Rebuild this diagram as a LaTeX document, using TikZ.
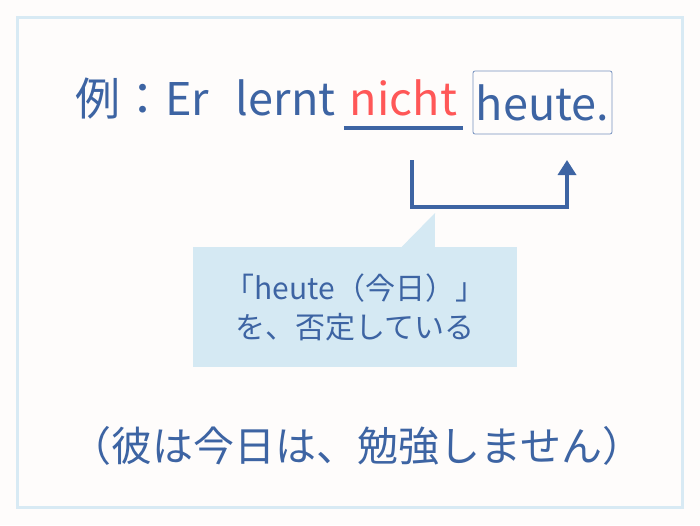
\documentclass[tikz,border=0pt]{standalone}
\usepackage{fontspec}
\setmainfont{Noto Sans CJK JP}
\usepackage{tikz}
\usetikzlibrary{positioning,arrows.meta}

\definecolor{inkblue}{HTML}{3D64A3}
\definecolor{negred}{HTML}{FF5757}
\definecolor{frameblue}{HTML}{D8EAF4}
\definecolor{bubbleblue}{HTML}{D5E9F3}
\definecolor{paper}{HTML}{FEFCFB}

\begin{document}
\begin{tikzpicture}
    [ x = 1pt, y = -1pt
    , word/.style =
      { inner sep = 0pt, text = inkblue, font = \fontsize{45}{54}\selectfont }
    , neg/.style =
      { text = negred, inner xsep = 6pt, text depth = 13pt }
    , boxed/.style =
      { draw = inkblue!70, line width = .8pt, rounded corners = 2pt,
        minimum width = 139pt, minimum height = 63pt }
    , link/.style =
      { draw = inkblue, line width = 3.5pt, line join = miter }
    , bubble/.style =
      { fill = bubbleblue, minimum width = 324pt, minimum height = 120pt,
        align = center, text = inkblue, font = \fontsize{30}{39}\selectfont }
    , note/.style =
      { text = inkblue, font = \fontsize{41}{48}\selectfont }
    ]
    \fill [paper] (0,0) rectangle (700,525);
    \draw [frameblue, line width = 3pt] (17.5,17.5) rectangle (682.5,507.5);

    \node [word,neg,anchor=base] (nicht) at (403.5,115) {nicht};
    \node [word] (lead) [base left=8pt of nicht] {例：Er\hspace{27pt}lernt};
    \node [word,boxed] (heute) at (542.5,102.5) {heute.};
    \draw [link] (nicht.south west) -- (nicht.south east);

    \coordinate (from) at (412,160);
    \coordinate (turn) at (567,207);
    \coordinate (to) at (567,160);
    \draw [link, -{Triangle[width=18pt,length=15pt]}] (from) |- (turn) -- (to);

    \node [bubble] (callout) at (355,307) {「heute（今日）」\\を、否定している};
    \coordinate (tip) at (435,213);
    \fill [bubbleblue] ([xshift=209pt]callout.north west) -- (tip)
      -- ([xshift=242pt]callout.north west) -- cycle;

    \node [note] (gloss) at (357,446) {（彼は今日は、勉強しません）};
\end{tikzpicture}
\end{document}
